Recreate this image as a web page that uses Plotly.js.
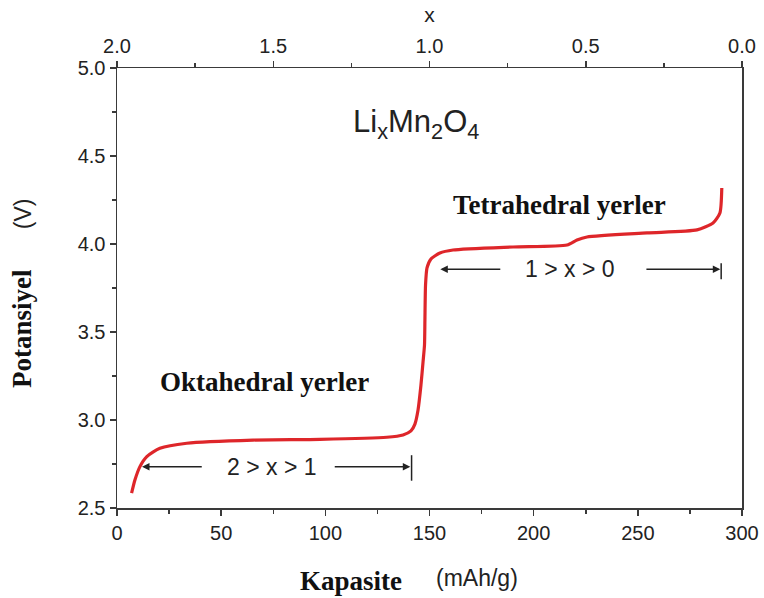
<!DOCTYPE html>
<html>
<head>
<meta charset="utf-8">
<script src="https://cdn.plot.ly/plotly-3.0.1.min.js"></script>
<style>
  html, body { margin: 0; padding: 0; background: #fff; }
  #chart { width: 764px; height: 598px; }
</style>
</head>
<body>
<div id="chart"></div>
<script>
// Discharge curve of LixMn2O4: capacity (mAh/g) vs cell potential (V)
const capacity = [7.0, 8.6, 11.0, 14.3, 20.6, 33.5, 65.3, 97.4, 129.5, 137.3,
  141.1, 143.0, 144.5, 145.9, 146.9, 147.6, 147.8, 148.1, 148.8, 150.7,
  155.0, 161.3, 190.1, 216.0, 220.8, 225.6, 254.4, 278.4, 286.1, 289.4, 290.3];
const potential = [2.584, 2.659, 2.735, 2.792, 2.839, 2.868, 2.886, 2.890, 2.902, 2.915,
  2.938, 2.977, 3.057, 3.199, 3.330, 3.426, 3.568, 3.767, 3.864, 3.915,
  3.949, 3.966, 3.983, 3.994, 4.023, 4.040, 4.063, 4.080, 4.119, 4.176, 4.318];

// lithium content scale on the top axis (x in LixMn2O4)
const lithiumRange = [2.0, 0.0];

// plateau labels
const regionLabels = ['Oktahedral yerler', 'Tetrahedral yerler'];
const rangeLabels = ['2 > x > 1', '1 > x > 0'];

const SANS = 'Liberation Sans, Arial, sans-serif';
const SERIF = 'Liberation Serif, Times New Roman, serif';
const INK = '#222222';
const AXIS = '#3a3a3a';

const traces = [
  {
    x: capacity, y: potential, type: 'scatter', mode: 'lines',
    line: { color: 'rgb(222,38,42)', width: 3.2, shape: 'spline', smoothing: 0.6 },
    hoverinfo: 'skip', showlegend: false
  },
  {
    // carries the top lithium-content axis
    x: lithiumRange, y: [null, null], xaxis: 'x2', yaxis: 'y',
    type: 'scatter', mode: 'lines', hoverinfo: 'skip', showlegend: false
  }
];

const tickFont = { family: SANS, size: 20, color: INK };

const arrowStyle = {
  showarrow: true, text: '', axref: 'x', ayref: 'y', xref: 'x', yref: 'y',
  arrowhead: 2, arrowsize: 1, arrowwidth: 1.5, arrowcolor: INK, standoff: 0
};

const layout = {
  width: 764, height: 598,
  margin: { l: 117, r: 22, t: 68, b: 90 },
  paper_bgcolor: '#fff', plot_bgcolor: '#fff',
  showlegend: false,
  xaxis: {
    range: [0, 300], dtick: 50, tick0: 0,
    showgrid: false, zeroline: false,
    showline: true, linecolor: AXIS, linewidth: 1.5,
    ticks: 'outside', ticklen: 6, tickwidth: 1.5, tickcolor: AXIS,
    minor: { dtick: 25, ticks: 'outside', ticklen: 4, tickwidth: 1.5, tickcolor: AXIS },
    tickfont: tickFont
  },
  xaxis2: {
    overlaying: 'x', side: 'top', anchor: 'y',
    range: lithiumRange, dtick: 0.5, tick0: 0, tickformat: '.1f',
    showgrid: false, zeroline: false,
    showline: true, linecolor: AXIS, linewidth: 1.5,
    ticks: 'outside', ticklen: 6, tickwidth: 1.5, tickcolor: AXIS,
    minor: { dtick: 0.25, ticks: 'outside', ticklen: 4, tickwidth: 1.5, tickcolor: AXIS },
    tickfont: tickFont,
    title: { text: 'x', font: { family: SANS, size: 21, color: INK }, standoff: 6 }
  },
  yaxis: {
    range: [2.5, 5.0], dtick: 0.5, tick0: 0, tickformat: '.1f',
    showgrid: false, zeroline: false,
    showline: true, linecolor: AXIS, linewidth: 1.5, mirror: true,
    ticks: 'outside', ticklen: 6, tickwidth: 1.5, tickcolor: AXIS,
    minor: { dtick: 0.25, ticks: 'outside', ticklen: 4, tickwidth: 1.5, tickcolor: AXIS },
    tickfont: tickFont
  },
  shapes: [
    // end bars of the two composition ranges
    { type: 'line', xref: 'x', yref: 'y', x0: 141.4, x1: 141.4, y0: 2.655, y1: 2.80,
      line: { color: INK, width: 1.5 } },
    { type: 'line', xref: 'x', yref: 'y', x0: 290.0, x1: 290.0, y0: 3.80, y1: 3.89,
      line: { color: INK, width: 1.5 } }
  ],
  annotations: [
    // compound formula
    { xref: 'x', yref: 'y', x: 112.5, y: 4.68, xanchor: 'left', yanchor: 'middle',
      text: 'Li<sub>x</sub>Mn<sub>2</sub>O<sub>4</sub>', showarrow: false,
      font: { family: SANS, size: 31, color: INK } },
    // site labels
    { xref: 'x', yref: 'y', x: 71.0, y: 3.218, text: '<b>' + regionLabels[0] + '</b>', showarrow: false,
      font: { family: SERIF, size: 27, color: '#111' }, xanchor: 'center', yanchor: 'middle' },
    { xref: 'x', yref: 'y', x: 212.2, y: 4.222, text: '<b>' + regionLabels[1] + '</b>', showarrow: false,
      font: { family: SERIF, size: 27, color: '#111' }, xanchor: 'center', yanchor: 'middle' },
    // composition ranges
    { xref: 'x', yref: 'y', x: 74.2, y: 2.735, text: rangeLabels[0], showarrow: false,
      font: { family: SANS, size: 23, color: INK } },
    { xref: 'x', yref: 'y', x: 217.4, y: 3.856, text: rangeLabels[1], showarrow: false,
      font: { family: SANS, size: 23, color: INK } },
    Object.assign({ x: 12.0, y: 2.735, ax: 41.4, ay: 2.735 }, arrowStyle),
    Object.assign({ x: 140.8, y: 2.735, ax: 103.8, ay: 2.735 }, arrowStyle),
    Object.assign({ x: 155.2, y: 3.856, ax: 184.7, ay: 3.856 }, arrowStyle),
    Object.assign({ x: 289.6, y: 3.856, ax: 253.4, ay: 3.856 }, arrowStyle),
    // axis titles
    { xref: 'paper', yref: 'paper', x: (298 - 117) / 625, y: -0.165, xanchor: 'left', yanchor: 'middle',
      text: '<b>Kapasite</b>', showarrow: false, font: { family: SERIF, size: 27, color: '#111' } },
    { xref: 'paper', yref: 'paper', x: (434 - 117) / 625, y: -0.158, xanchor: 'left', yanchor: 'middle',
      text: '(mAh/g)', showarrow: false, font: { family: SANS, size: 23, color: INK } },
    { xref: 'paper', yref: 'paper', x: -0.152, y: (508 - 329) / 440, xanchor: 'center', yanchor: 'middle',
      text: '<b>Potansiyel</b>', textangle: -90, showarrow: false,
      font: { family: SERIF, size: 27, color: '#111' } },
    { xref: 'paper', yref: 'paper', x: -0.150, y: (508 - 214) / 440, xanchor: 'center', yanchor: 'middle',
      text: '(V)', textangle: -90, showarrow: false,
      font: { family: SANS, size: 23, color: INK } }
  ]
};

Plotly.newPlot('chart', traces, layout, { staticPlot: true, displayModeBar: false });
</script>
</body>
</html>
